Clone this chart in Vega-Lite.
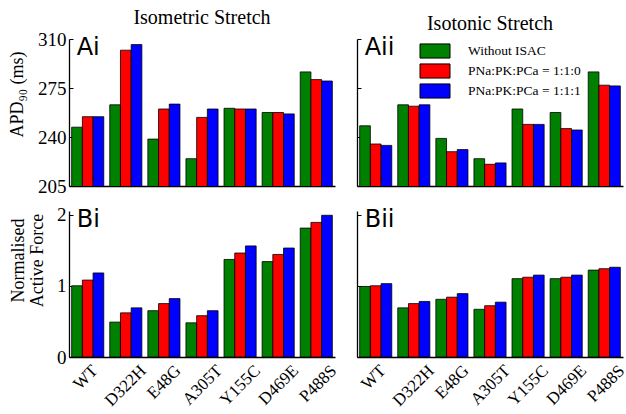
{
  "$schema": "https://vega.github.io/schema/vega-lite/v6.json",
  "padding": {"left": 7, "top": 8, "right": 0, "bottom": 0},
  "background": "white",
  "datasets": {
    "apdIsometric": [
      {"mutant": "WT", "cond": "Without ISAC", "v": 247},
      {"mutant": "WT", "cond": "PNa:PK:PCa = 1:1:0", "v": 254.5},
      {"mutant": "WT", "cond": "PNa:PK:PCa = 1:1:1", "v": 254.5},
      {"mutant": "D322H", "cond": "Without ISAC", "v": 263},
      {"mutant": "D322H", "cond": "PNa:PK:PCa = 1:1:0", "v": 302},
      {"mutant": "D322H", "cond": "PNa:PK:PCa = 1:1:1", "v": 306},
      {"mutant": "E48G", "cond": "Without ISAC", "v": 238.5},
      {"mutant": "E48G", "cond": "PNa:PK:PCa = 1:1:0", "v": 260},
      {"mutant": "E48G", "cond": "PNa:PK:PCa = 1:1:1", "v": 263.5},
      {"mutant": "A305T", "cond": "Without ISAC", "v": 224.5},
      {"mutant": "A305T", "cond": "PNa:PK:PCa = 1:1:0", "v": 254},
      {"mutant": "A305T", "cond": "PNa:PK:PCa = 1:1:1", "v": 260},
      {"mutant": "Y155C", "cond": "Without ISAC", "v": 260.5},
      {"mutant": "Y155C", "cond": "PNa:PK:PCa = 1:1:0", "v": 260},
      {"mutant": "Y155C", "cond": "PNa:PK:PCa = 1:1:1", "v": 260},
      {"mutant": "D469E", "cond": "Without ISAC", "v": 257.5},
      {"mutant": "D469E", "cond": "PNa:PK:PCa = 1:1:0", "v": 257.5},
      {"mutant": "D469E", "cond": "PNa:PK:PCa = 1:1:1", "v": 256.5},
      {"mutant": "P488S", "cond": "Without ISAC", "v": 286.5},
      {"mutant": "P488S", "cond": "PNa:PK:PCa = 1:1:0", "v": 281},
      {"mutant": "P488S", "cond": "PNa:PK:PCa = 1:1:1", "v": 280}
    ],
    "apdIsotonic": [
      {"mutant": "WT", "cond": "Without ISAC", "v": 248},
      {"mutant": "WT", "cond": "PNa:PK:PCa = 1:1:0", "v": 235},
      {"mutant": "WT", "cond": "PNa:PK:PCa = 1:1:1", "v": 234},
      {"mutant": "D322H", "cond": "Without ISAC", "v": 263},
      {"mutant": "D322H", "cond": "PNa:PK:PCa = 1:1:0", "v": 262},
      {"mutant": "D322H", "cond": "PNa:PK:PCa = 1:1:1", "v": 263},
      {"mutant": "E48G", "cond": "Without ISAC", "v": 239},
      {"mutant": "E48G", "cond": "PNa:PK:PCa = 1:1:0", "v": 229.5},
      {"mutant": "E48G", "cond": "PNa:PK:PCa = 1:1:1", "v": 231},
      {"mutant": "A305T", "cond": "Without ISAC", "v": 224.5},
      {"mutant": "A305T", "cond": "PNa:PK:PCa = 1:1:0", "v": 220.5},
      {"mutant": "A305T", "cond": "PNa:PK:PCa = 1:1:1", "v": 221.5},
      {"mutant": "Y155C", "cond": "Without ISAC", "v": 260},
      {"mutant": "Y155C", "cond": "PNa:PK:PCa = 1:1:0", "v": 249},
      {"mutant": "Y155C", "cond": "PNa:PK:PCa = 1:1:1", "v": 249},
      {"mutant": "D469E", "cond": "Without ISAC", "v": 257.5},
      {"mutant": "D469E", "cond": "PNa:PK:PCa = 1:1:0", "v": 246},
      {"mutant": "D469E", "cond": "PNa:PK:PCa = 1:1:1", "v": 245},
      {"mutant": "P488S", "cond": "Without ISAC", "v": 286.5},
      {"mutant": "P488S", "cond": "PNa:PK:PCa = 1:1:0", "v": 277},
      {"mutant": "P488S", "cond": "PNa:PK:PCa = 1:1:1", "v": 276.5}
    ],
    "forceIsometric": [
      {"mutant": "WT", "cond": "Without ISAC", "v": 1.0},
      {"mutant": "WT", "cond": "PNa:PK:PCa = 1:1:0", "v": 1.08},
      {"mutant": "WT", "cond": "PNa:PK:PCa = 1:1:1", "v": 1.18},
      {"mutant": "D322H", "cond": "Without ISAC", "v": 0.49},
      {"mutant": "D322H", "cond": "PNa:PK:PCa = 1:1:0", "v": 0.62},
      {"mutant": "D322H", "cond": "PNa:PK:PCa = 1:1:1", "v": 0.69},
      {"mutant": "E48G", "cond": "Without ISAC", "v": 0.65},
      {"mutant": "E48G", "cond": "PNa:PK:PCa = 1:1:0", "v": 0.75},
      {"mutant": "E48G", "cond": "PNa:PK:PCa = 1:1:1", "v": 0.82},
      {"mutant": "A305T", "cond": "Without ISAC", "v": 0.48},
      {"mutant": "A305T", "cond": "PNa:PK:PCa = 1:1:0", "v": 0.58},
      {"mutant": "A305T", "cond": "PNa:PK:PCa = 1:1:1", "v": 0.65},
      {"mutant": "Y155C", "cond": "Without ISAC", "v": 1.37},
      {"mutant": "Y155C", "cond": "PNa:PK:PCa = 1:1:0", "v": 1.46},
      {"mutant": "Y155C", "cond": "PNa:PK:PCa = 1:1:1", "v": 1.56},
      {"mutant": "D469E", "cond": "Without ISAC", "v": 1.34},
      {"mutant": "D469E", "cond": "PNa:PK:PCa = 1:1:0", "v": 1.44},
      {"mutant": "D469E", "cond": "PNa:PK:PCa = 1:1:1", "v": 1.53},
      {"mutant": "P488S", "cond": "Without ISAC", "v": 1.81},
      {"mutant": "P488S", "cond": "PNa:PK:PCa = 1:1:0", "v": 1.89},
      {"mutant": "P488S", "cond": "PNa:PK:PCa = 1:1:1", "v": 1.99}
    ],
    "forceIsotonic": [
      {"mutant": "WT", "cond": "Without ISAC", "v": 0.99},
      {"mutant": "WT", "cond": "PNa:PK:PCa = 1:1:0", "v": 1.0},
      {"mutant": "WT", "cond": "PNa:PK:PCa = 1:1:1", "v": 1.03},
      {"mutant": "D322H", "cond": "Without ISAC", "v": 0.69},
      {"mutant": "D322H", "cond": "PNa:PK:PCa = 1:1:0", "v": 0.75},
      {"mutant": "D322H", "cond": "PNa:PK:PCa = 1:1:1", "v": 0.78},
      {"mutant": "E48G", "cond": "Without ISAC", "v": 0.81},
      {"mutant": "E48G", "cond": "PNa:PK:PCa = 1:1:0", "v": 0.84},
      {"mutant": "E48G", "cond": "PNa:PK:PCa = 1:1:1", "v": 0.89},
      {"mutant": "A305T", "cond": "Without ISAC", "v": 0.67},
      {"mutant": "A305T", "cond": "PNa:PK:PCa = 1:1:0", "v": 0.72},
      {"mutant": "A305T", "cond": "PNa:PK:PCa = 1:1:1", "v": 0.77},
      {"mutant": "Y155C", "cond": "Without ISAC", "v": 1.10},
      {"mutant": "Y155C", "cond": "PNa:PK:PCa = 1:1:0", "v": 1.12},
      {"mutant": "Y155C", "cond": "PNa:PK:PCa = 1:1:1", "v": 1.15},
      {"mutant": "D469E", "cond": "Without ISAC", "v": 1.10},
      {"mutant": "D469E", "cond": "PNa:PK:PCa = 1:1:0", "v": 1.12},
      {"mutant": "D469E", "cond": "PNa:PK:PCa = 1:1:1", "v": 1.15},
      {"mutant": "P488S", "cond": "Without ISAC", "v": 1.22},
      {"mutant": "P488S", "cond": "PNa:PK:PCa = 1:1:0", "v": 1.24},
      {"mutant": "P488S", "cond": "PNa:PK:PCa = 1:1:1", "v": 1.26}
    ]
  },
  "columns": 2,
  "bounds": "flush",
  "spacing": {"column": 22, "row": 25},
  "resolve": {"legend": {"color": "independent"}},
  "concat": [
    {
      "width": 266, "height": 147,
      "title": {"text": "Isometric Stretch", "font": "Liberation Serif", "fontSize": 20, "fontWeight": "normal", "offset": 2},
      "layer": [
        {
          "data": {"name": "apdIsometric"},
          "mark": {"type": "bar", "stroke": "black", "strokeWidth": 0.8, "clip": true},
          "encoding": {
            "x": {"field": "mutant", "type": "nominal", "sort": ["WT","D322H","E48G","A305T","Y155C","D469E","P488S"], "scale": {"paddingInner": 0.157, "paddingOuter": 0.07}, "axis": {"labels": false, "title": null}},
            "xOffset": {"field": "cond", "type": "nominal", "sort": ["Without ISAC","PNa:PK:PCa = 1:1:0","PNa:PK:PCa = 1:1:1"], "scale": {"paddingInner": 0, "paddingOuter": 0}},
            "y": {"field": "v", "type": "quantitative", "scale": {"domain": [205, 310], "zero": false, "nice": false}, "axis": {"values": [205, 240, 275, 310], "labelOverlap": false, "title": "APD₉₀ (ms)", "titleY": 55, "titleX": -43}},
            "color": {"field": "cond", "type": "nominal", "sort": ["Without ISAC","PNa:PK:PCa = 1:1:0","PNa:PK:PCa = 1:1:1"], "scale": {"domain": ["Without ISAC","PNa:PK:PCa = 1:1:0","PNa:PK:PCa = 1:1:1"], "range": ["#008000","#ff0000","#0000ff"]}, "legend": null}
          }
        },
        {
          "data": {"values": [{"label": "Ai"}]},
          "mark": {"type": "text", "font": "DejaVu Sans", "fontSize": 24, "align": "left", "baseline": "top", "dx": 5, "dy": -3, "color": "black"},
          "encoding": {"x": {"datum": "WT", "bandPosition": 0}, "y": {"datum": 310}, "text": {"field": "label"}}
        }
      ]
    },
    {
      "width": 266, "height": 147,
      "title": {"text": "Isotonic Stretch", "font": "Liberation Serif", "fontSize": 20, "fontWeight": "normal", "offset": 2},
      "layer": [
        {
          "data": {"name": "apdIsotonic"},
          "mark": {"type": "bar", "stroke": "black", "strokeWidth": 0.8, "clip": true},
          "encoding": {
            "x": {"field": "mutant", "type": "nominal", "sort": ["WT","D322H","E48G","A305T","Y155C","D469E","P488S"], "scale": {"paddingInner": 0.157, "paddingOuter": 0.07}, "axis": {"labels": false, "title": null}},
            "xOffset": {"field": "cond", "type": "nominal", "sort": ["Without ISAC","PNa:PK:PCa = 1:1:0","PNa:PK:PCa = 1:1:1"], "scale": {"paddingInner": 0, "paddingOuter": 0}},
            "y": {"field": "v", "type": "quantitative", "scale": {"domain": [205, 310], "zero": false, "nice": false}, "axis": {"values": [205, 240, 275, 310], "labels": false, "title": null}},
            "color": {"field": "cond", "type": "nominal", "sort": ["Without ISAC","PNa:PK:PCa = 1:1:0","PNa:PK:PCa = 1:1:1"], "scale": {"domain": ["Without ISAC","PNa:PK:PCa = 1:1:0","PNa:PK:PCa = 1:1:1"], "range": ["#008000","#ff0000","#0000ff"]},
              "legend": {"orient": "none", "legendX": 70, "legendY": 4, "title": null, "symbolType": "M-2,-0.94H2V0.94H-2Z", "symbolSize": 225, "symbolStrokeColor": "black", "symbolStrokeWidth": 1, "symbolOpacity": 1, "labelFont": "Liberation Serif", "labelFontSize": 13.5, "labelColor": "black", "labelOffset": 25, "rowPadding": 0, "padding": 0}}
          }
        },
        {
          "data": {"values": [{"label": "Aii"}]},
          "mark": {"type": "text", "font": "DejaVu Sans", "fontSize": 24, "align": "left", "baseline": "top", "dx": 5, "dy": -3, "color": "black"},
          "encoding": {"x": {"datum": "WT", "bandPosition": 0}, "y": {"datum": 310}, "text": {"field": "label"}}
        }
      ]
    },
    {
      "width": 266, "height": 146,
      "layer": [
        {
          "data": {"name": "forceIsometric"},
          "mark": {"type": "bar", "stroke": "black", "strokeWidth": 0.8, "clip": true},
          "encoding": {
            "x": {"field": "mutant", "type": "nominal", "sort": ["WT","D322H","E48G","A305T","Y155C","D469E","P488S"], "scale": {"paddingInner": 0.157, "paddingOuter": 0.07}, "axis": {"title": null, "labelAngle": -45, "labelAlign": "right", "labelBaseline": "top", "labelPadding": 9, "labelFontSize": 17, "labelOffset": {"expr": "length(datum.label) * 3.4 - 5"}}},
            "xOffset": {"field": "cond", "type": "nominal", "sort": ["Without ISAC","PNa:PK:PCa = 1:1:0","PNa:PK:PCa = 1:1:1"], "scale": {"paddingInner": 0, "paddingOuter": 0}},
            "y": {"field": "v", "type": "quantitative", "scale": {"domain": [0, 2.05], "nice": false}, "axis": {"values": [0, 1, 2], "labelExpr": "format(datum.value, 'd')", "labelOverlap": false, "labelFlush": false, "title": ["Normalised", "Active Force"], "titleY": 49, "titleX": -42, "titleLineHeight": 19}},
            "color": {"field": "cond", "type": "nominal", "sort": ["Without ISAC","PNa:PK:PCa = 1:1:0","PNa:PK:PCa = 1:1:1"], "scale": {"domain": ["Without ISAC","PNa:PK:PCa = 1:1:0","PNa:PK:PCa = 1:1:1"], "range": ["#008000","#ff0000","#0000ff"]}, "legend": null}
          }
        },
        {
          "data": {"values": [{"label": "Bi"}]},
          "mark": {"type": "text", "font": "DejaVu Sans", "fontSize": 24, "align": "left", "baseline": "top", "dx": 5, "dy": -3, "color": "black"},
          "encoding": {"x": {"datum": "WT", "bandPosition": 0}, "y": {"datum": 2.05}, "text": {"field": "label"}}
        }
      ]
    },
    {
      "width": 266, "height": 146,
      "layer": [
        {
          "data": {"name": "forceIsotonic"},
          "mark": {"type": "bar", "stroke": "black", "strokeWidth": 0.8, "clip": true},
          "encoding": {
            "x": {"field": "mutant", "type": "nominal", "sort": ["WT","D322H","E48G","A305T","Y155C","D469E","P488S"], "scale": {"paddingInner": 0.157, "paddingOuter": 0.07}, "axis": {"title": null, "labelAngle": -45, "labelAlign": "right", "labelBaseline": "top", "labelPadding": 9, "labelFontSize": 17, "labelOffset": {"expr": "length(datum.label) * 3.4 - 5"}}},
            "xOffset": {"field": "cond", "type": "nominal", "sort": ["Without ISAC","PNa:PK:PCa = 1:1:0","PNa:PK:PCa = 1:1:1"], "scale": {"paddingInner": 0, "paddingOuter": 0}},
            "y": {"field": "v", "type": "quantitative", "scale": {"domain": [0, 2.05], "nice": false}, "axis": {"values": [0, 1, 2], "labels": false, "title": null}},
            "color": {"field": "cond", "type": "nominal", "sort": ["Without ISAC","PNa:PK:PCa = 1:1:0","PNa:PK:PCa = 1:1:1"], "scale": {"domain": ["Without ISAC","PNa:PK:PCa = 1:1:0","PNa:PK:PCa = 1:1:1"], "range": ["#008000","#ff0000","#0000ff"]}, "legend": null}
          }
        },
        {
          "data": {"values": [{"label": "Bii"}]},
          "mark": {"type": "text", "font": "DejaVu Sans", "fontSize": 24, "align": "left", "baseline": "top", "dx": 5, "dy": -3, "color": "black"},
          "encoding": {"x": {"datum": "WT", "bandPosition": 0}, "y": {"datum": 2.05}, "text": {"field": "label"}}
        }
      ]
    }
  ],
  "config": {
    "view": {"stroke": null},
    "font": "Liberation Serif",
    "axis": {"grid": false, "domainColor": "black", "domainWidth": 1.3, "tickColor": "black", "tickSize": -4, "tickWidth": 1, "labelPadding": 7, "labelFont": "Liberation Serif", "labelFontSize": 19, "labelColor": "black", "titleFont": "Liberation Serif", "titleFontSize": 18, "titleFontWeight": "normal", "titleColor": "black", "titlePadding": 6}
  }
}
